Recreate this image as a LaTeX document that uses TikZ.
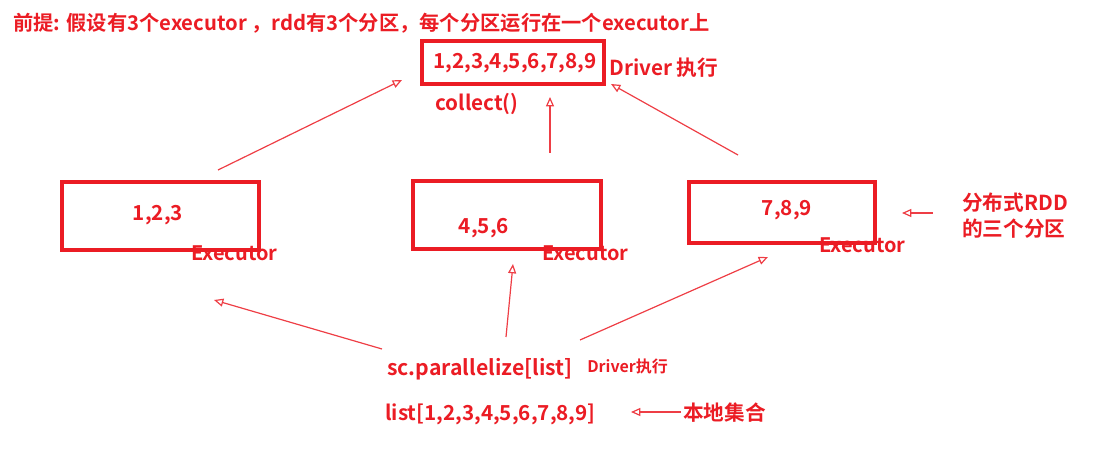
\documentclass[tikz,border=0pt]{standalone}
\usepackage{fontspec}
\setmainfont{Noto Sans CJK SC}[BoldFont={* Bold}]
\usetikzlibrary{arrows.meta}
\definecolor{rd}{RGB}{235,28,36}
\tikzset{
  txt/.style={text=rd, font=\bfseries\fontsize{15.5}{19.5}\selectfont, inner sep=0pt},
  ttl/.style={text=rd, font=\bfseries\fontsize{15.2}{17}\selectfont, inner sep=0pt},
  exe/.style={text=rd, font=\bfseries\fontsize{15}{17}\selectfont, inner sep=0pt},
  small/.style={text=rd, font=\bfseries\fontsize{12}{14}\selectfont, inner sep=0pt},
  box/.style={draw=rd, line width=2.4pt},
  arr/.style={draw=rd!85, line width=0.9pt, -{Triangle[open, length=7pt, width=6pt]}},
}
\begin{document}
\begin{tikzpicture}[x=0.75pt, y=-0.75pt]
\useasboundingbox (0,0) rectangle (1108,449);
% title
\node[ttl, anchor=west] (title) at (13,23) {前提: 假设有3个executor ，rdd有3个分区，每个分区运行在一个executor上};
% top box
\draw[box] (422,41) rectangle (604,84);
\node[txt] (all) at (515,63) {1,2,3,4,5,6,7,8,9};
\node[txt, anchor=west] (drv) at (609,68) {Driver 执行};
\node[txt, anchor=west] (collect) at (435,104) {collect()};
% executor boxes
\draw[box] (62,182) rectangle (259,250);
\node[txt] (p1) at (158,215) {1,2,3};
\node[exe, anchor=west] (e1) at (191,253) {Executor};
\draw[box] (413,181) rectangle (601,249);
\node[txt] (p2) at (484,228) {4,5,6};
\node[exe, anchor=west] (e2) at (542,253) {Executor};
\draw[box] (689,182) rectangle (875,243);
\node[txt] (p3) at (787,210) {7,8,9};
\node[exe, anchor=west] (e3) at (819,245) {Executor};
% right note
\node[txt, anchor=west, align=left] (rddnote) at (962,216) {分布式RDD\\的三个分区};
% bottom texts
\node[txt, anchor=west, font=\bfseries\fontsize{15.9}{19}\selectfont] (par) at (387,369) {sc.parallelize[list]};
\node[small, anchor=west] (drv2) at (587,366) {Driver执行};
\node[txt, anchor=west] (lst) at (385,414) {list[1,2,3,4,5,6,7,8,9]};
\node[txt, anchor=west] (local) at (683,413) {本地集合};
% arrow coordinates
\coordinate (u1s) at (218,170); \coordinate (u1e) at (402,80);
\coordinate (u2s) at (550,153); \coordinate (u2e) at (550,97);
\coordinate (u3s) at (738,155); \coordinate (u3e) at (611,84);
\coordinate (d1s) at (382,349); \coordinate (d1e) at (214,300);
\coordinate (d2s) at (506,337); \coordinate (d2e) at (513,264);
\coordinate (d3s) at (580,340); \coordinate (d3e) at (768,257);
\coordinate (r1s) at (933,213); \coordinate (r1e) at (902,213);
\coordinate (r2s) at (681,412); \coordinate (r2e) at (631,412);
\draw[arr] (u1s) -- (u1e);
\draw[arr] (u2s) -- (u2e);
\draw[arr] (u3s) -- (u3e);
\draw[arr] (d1s) -- (d1e);
\draw[arr] (d2s) -- (d2e);
\draw[arr] (d3s) -- (d3e);
\draw[arr] (r1s) -- (r1e);
\draw[arr] (r2s) -- (r2e);
\end{tikzpicture}
\end{document}
